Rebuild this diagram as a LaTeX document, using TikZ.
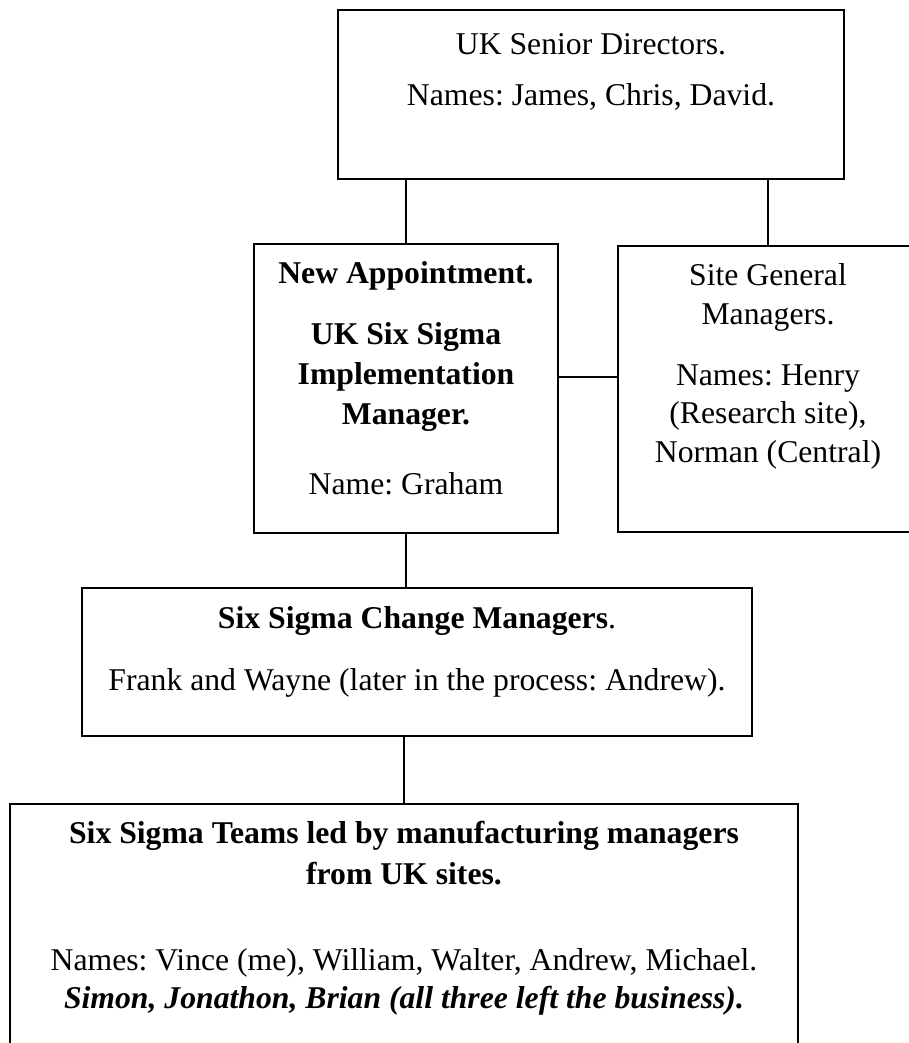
\documentclass[tikz,border=0pt]{standalone}
\usepackage{fontspec}
\setmainfont{Liberation Serif}
\begin{document}
\begin{tikzpicture}[x=1pt,y=-1pt,
  box/.style={draw, line width=2pt, inner sep=0pt, outer sep=0pt},
  link/.style={draw, line width=1.6pt},
  txt/.style={anchor=base, inner sep=0pt, font=\fontsize{31.7pt}{40pt}\selectfont\frenchspacing}]
\useasboundingbox (0,0) rectangle (909,1043);
% boxes
\node[box, minimum width=506pt, minimum height=169pt] (top) at (591,94.5) {};
\node[box, minimum width=304pt, minimum height=289pt] (left) at (406,388.5) {};
\node[box, minimum width=300pt, minimum height=286pt] (right) at (768,389) {};
\node[box, minimum width=670pt, minimum height=148pt] (change) at (417,662) {};
\node[box, minimum width=788pt, minimum height=276pt] (teams) at (404,942) {};
% connectors
\draw[link] (top.south -| left.north) -- (left.north);
\draw[link] (top.south -| right.north) -- (right.north);
\draw[link] ([yshift=11.5pt]left.east) -- ([yshift=11.5pt]left.east -| right.west);
\draw[link] (left.south) -- (left.south |- change.north);
\draw[link] (change.south -| teams.north) -- (teams.north);
% texts
\node[txt] (t1) at (591,55) {UK Senior Directors.};
\node[txt] (t2) at (591,106) {Names: James, Chris, David.};
\node[txt] (l1) at (406,283) {\textbf{New Appointment.}};
\node[txt] (l2) at (406,344) {\textbf{UK Six Sigma}};
\node[txt] (l3) at (406,384) {\textbf{Implementation}};
\node[txt] (l4) at (406,424) {\textbf{Manager.}};
\node[txt] (l5) at (406,494) {Name: Graham};
\node[txt] (r1) at (768,285) {Site General};
\node[txt] (r2) at (768,324) {Managers.};
\node[txt] (r3) at (768,385) {Names: Henry};
\node[txt] (r4) at (768,423) {(Research site),};
\node[txt] (r5) at (768,462) {Norman (Central)};
\node[txt] (c1) at (417,628) {\textbf{Six Sigma Change Managers}.};
\node[txt] (c2) at (417,690) {Frank and Wayne (later in the process: Andrew).};
\node[txt] (b1) at (404,843) {\textbf{Six Sigma Teams led by manufacturing managers}};
\node[txt] (b2) at (404,884) {\textbf{from UK sites.}};
\node[txt] (b3) at (404,970) {Names: Vince (me), William, Walter, Andrew, Michael.};
\node[txt] (b4) at (404,1008) {\textbf{\textit{Simon, Jonathon, Brian (all three left the business).}}};
\end{tikzpicture}
\end{document}
